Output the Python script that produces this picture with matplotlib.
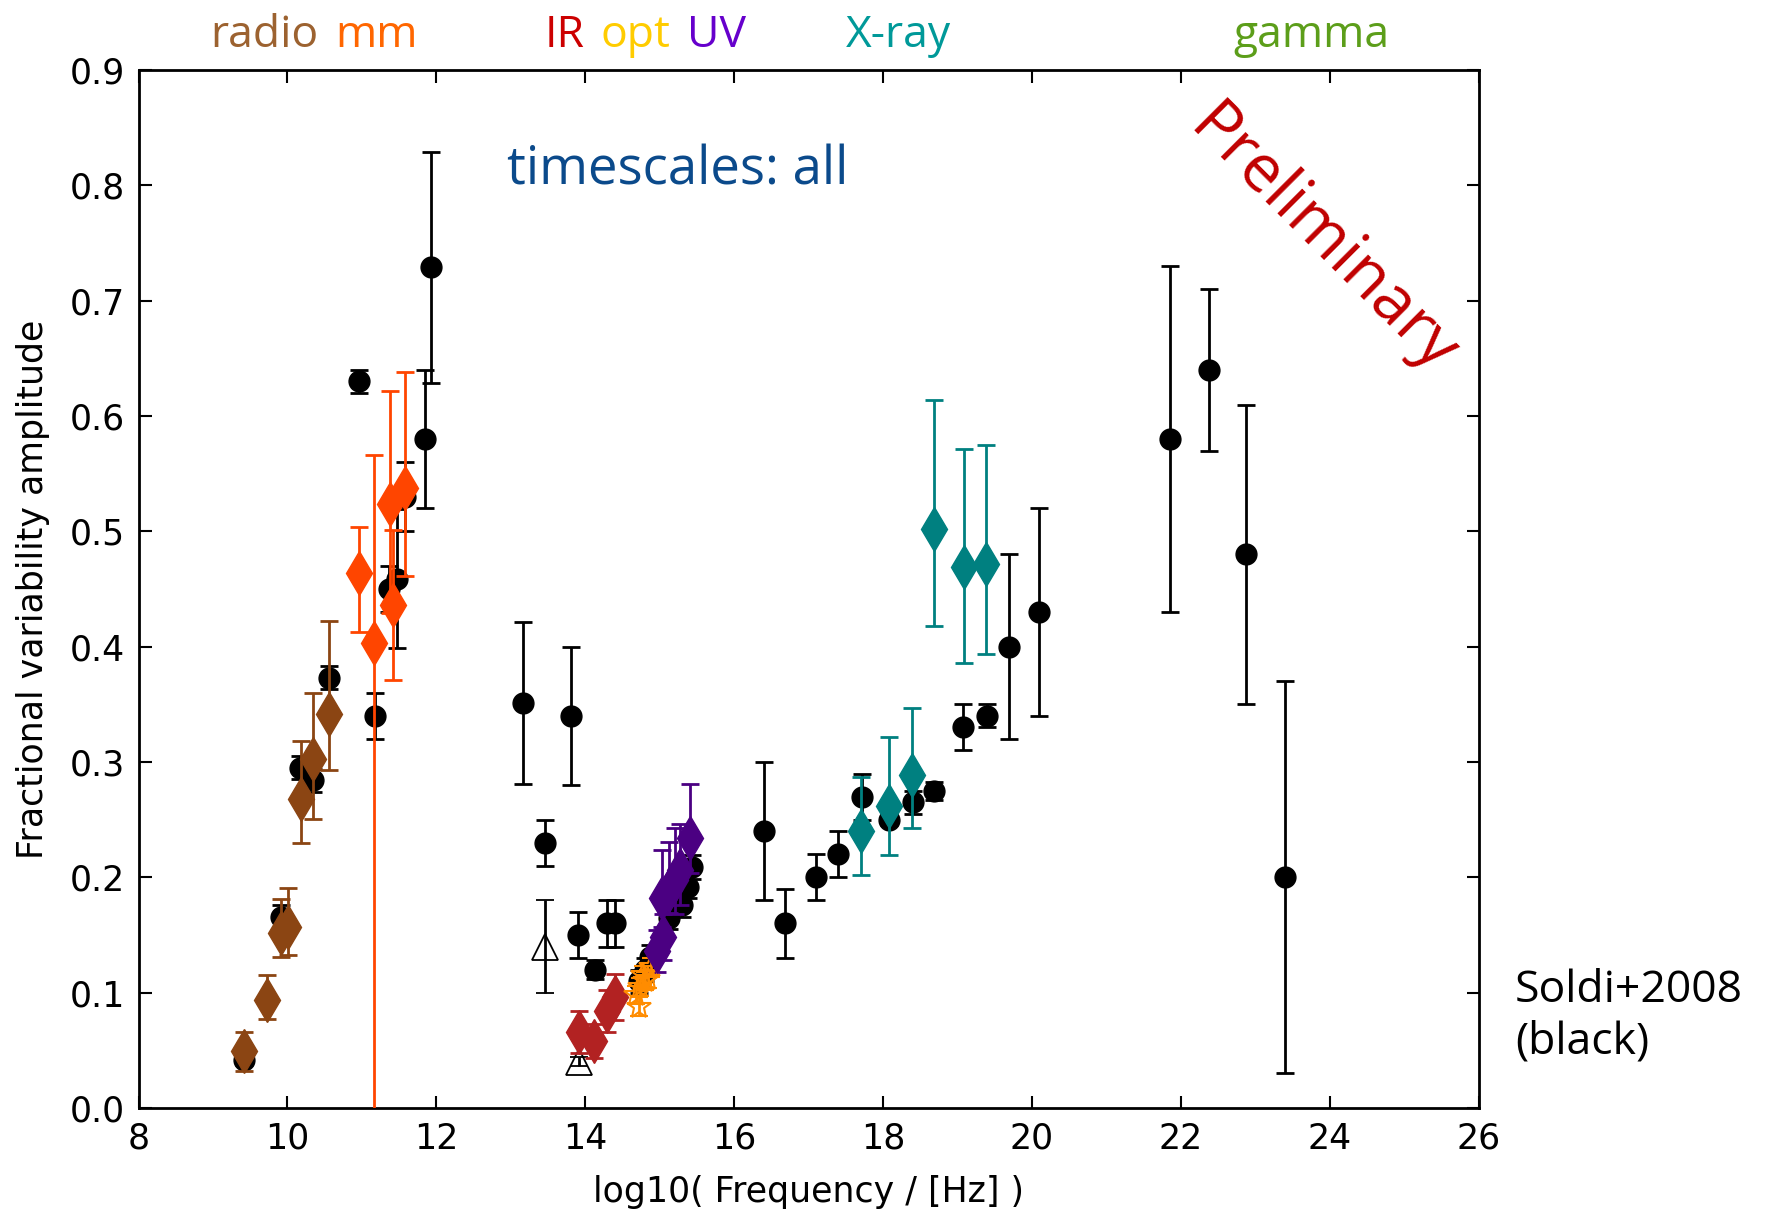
import numpy as np
import matplotlib
matplotlib.use('Agg')
import matplotlib.pyplot as plt
import matplotlib.transforms as mtransforms

plt.rcParams['font.family'] = ['DejaVu Sans']

# Soldi+2008 (black circles)
soldi_x = [9.42, 9.92, 10.17, 10.35, 10.56, 10.96, 11.18, 11.36, 11.47, 11.58, 11.85, 11.93,
           13.17, 13.81, 13.46, 13.90, 14.13, 14.29, 14.40,
           14.72, 14.80, 14.87, 15.12, 15.30, 15.38, 15.43,
           16.40, 16.69, 17.10, 17.39, 17.72, 18.08, 18.40, 18.69, 19.08, 19.40, 19.69, 20.10,
           21.85, 22.38, 22.87, 23.40]
soldi_y = [0.042, 0.166, 0.295, 0.284, 0.373, 0.630, 0.340, 0.450, 0.459, 0.530, 0.580, 0.729,
           0.351, 0.340, 0.230, 0.150, 0.120, 0.160, 0.160,
           0.110, 0.120, 0.131, 0.165, 0.176, 0.192, 0.209,
           0.240, 0.160, 0.200, 0.220, 0.270, 0.250, 0.265, 0.275, 0.330, 0.340, 0.400, 0.430,
           0.580, 0.640, 0.480, 0.200]
soldi_err = [0.005, 0.01, 0.01, 0.01, 0.01, 0.01, 0.02, 0.02, 0.06, 0.03, 0.06, 0.10,
             0.07, 0.06, 0.02, 0.02, 0.008, 0.02, 0.02,
             0.01, 0.01, 0.01, 0.01, 0.01, 0.01, 0.01,
             0.06, 0.03, 0.02, 0.02, 0.02, 0.005, 0.01, 0.008, 0.02, 0.01, 0.08, 0.09,
             0.15, 0.07, 0.13, 0.17]

# Soldi+2008 open triangles
tri_x = [13.46, 13.91]
tri_y = [0.140, 0.040]
tri_err = [0.04, 0.004]

# radio (brown)
radio_x = [9.41, 9.72, 9.92, 10.01, 10.18, 10.35, 10.56]
radio_y = [0.049, 0.094, 0.152, 0.157, 0.268, 0.303, 0.342]
radio_lo = [0.017, 0.017, 0.021, 0.024, 0.038, 0.052, 0.049]
radio_hi = [0.017, 0.021, 0.029, 0.034, 0.050, 0.057, 0.080]

# mm (orange-red)
mm_x = [10.96, 11.16, 11.38, 11.42, 11.58]
mm_y = [0.464, 0.403, 0.524, 0.436, 0.538]
mm_lo = [0.051, 0.500, 0.095, 0.065, 0.077]
mm_hi = [0.040, 0.163, 0.098, 0.065, 0.100]

# IR (red)
ir_x = [13.92, 14.12, 14.29, 14.40]
ir_y = [0.066, 0.058, 0.084, 0.096]
ir_err = [0.018, 0.015, 0.018, 0.020]

# optical (orange stars)
opt_x = [14.68, 14.72, 14.74, 14.77, 14.80, 14.84, 14.89]
opt_y = [0.098, 0.088, 0.105, 0.115, 0.110, 0.112, 0.122]
opt_err = [0.008, 0.008, 0.008, 0.008, 0.008, 0.008, 0.008]

# UV (purple)
uv_x = [14.96, 15.05, 15.03, 15.12, 15.21, 15.27, 15.41]
uv_y = [0.136, 0.148, 0.182, 0.189, 0.198, 0.206, 0.234]
uv_lo = [0.018, 0.020, 0.025, 0.020, 0.030, 0.030, 0.030]
uv_hi = [0.018, 0.020, 0.042, 0.042, 0.045, 0.040, 0.047]

# X-ray (teal)
xray_x = [17.70, 18.08, 18.39, 18.69, 19.09, 19.38]
xray_y = [0.240, 0.262, 0.289, 0.502, 0.469, 0.472]
xray_lo = [0.038, 0.043, 0.046, 0.084, 0.083, 0.078]
xray_hi = [0.047, 0.060, 0.058, 0.112, 0.102, 0.103]

band_words = ['radio', 'mm', 'IR', 'opt', 'UV', 'X-ray', 'gamma']
band_left = [8.97, 10.64, 13.46, 14.20, 15.37, 17.50, 22.71]
band_colors = ['#9C6230', '#FF6600', '#CC0000', '#FFCC00', '#6600CC', '#009999', '#5C9E1A']

fig = plt.figure(figsize=(17.67, 12.12), dpi=100)
ax = fig.add_axes([0.0784, 0.0858, 0.7584, 0.8564])

eb = dict(ls='none', elinewidth=2, capsize=6.5, capthick=2)

ax.errorbar(soldi_x, soldi_y, yerr=soldi_err, fmt='o', color='black', ms=15, zorder=2, **eb)
ax.errorbar(tri_x, tri_y, yerr=tri_err, fmt='^', color='black', mfc='none', mec='black',
            mew=1.3, ms=19, zorder=2, **eb)
ax.errorbar(radio_x, radio_y, yerr=[radio_lo, radio_hi], fmt='d', color='#8B4513', ms=22, zorder=3, **eb)
ax.errorbar(mm_x, mm_y, yerr=[mm_lo, mm_hi], fmt='d', color='#FF4500', ms=22, zorder=3, **eb)
ax.errorbar(ir_x, ir_y, yerr=ir_err, fmt='d', color='#B22222', ms=22, zorder=3, **eb)
ax.errorbar(opt_x, opt_y, yerr=opt_err, fmt='*', color='#FF8C00', mfc='none', mec='#FF8C00',
            mew=1.5, ms=18, zorder=3, **eb)
ax.errorbar(uv_x, uv_y, yerr=[uv_lo, uv_hi], fmt='d', color='#4B0082', ms=22, zorder=3, **eb)
ax.errorbar(xray_x, xray_y, yerr=[xray_lo, xray_hi], fmt='d', color='#008080', ms=22, zorder=3, **eb)

ax.set_xlim(8, 26)
ax.set_ylim(0, 0.9)
ax.set_xticks(np.arange(8, 27, 2))
ax.set_yticks(np.arange(0, 0.91, 0.1))
ax.set_yticklabels(['%.1f' % v for v in np.arange(0, 0.91, 0.1)])
ax.tick_params(direction='in', top=True, right=True, length=9, width=1.5,
               labelsize=25, pad=10)
for sp in ax.spines.values():
    sp.set_linewidth(2)

ax.set_xlabel('log10( Frequency / [Hz] )', fontsize=25, labelpad=14)
ax.set_ylabel('Fractional variability amplitude', fontsize=25, labelpad=14)

# band labels above the axes
trans = mtransforms.blended_transform_factory(ax.transData, ax.transAxes)
for word, xl, col in zip(band_words, band_left, band_colors):
    ax.text(xl, 1.022, word, transform=trans, color=col, fontsize=32,
            family='Open Sans', ha='left', va='baseline', clip_on=False)

ax.text(12.95, 0.813, 'timescales: all', color='#0B4A8B', fontsize=38,
        family='Open Sans', ha='left', va='center')
ax.text(23.9, 0.752, 'Preliminary', color='#C00000', fontsize=47, family='Open Sans',
        rotation=-45, rotation_mode='anchor', ha='center', va='center')
ax.text(26.49, 0.121, 'Soldi+2008\n(black)', color='black', fontsize=32,
        family='Open Sans', ha='left', va='top', linespacing=1.2, clip_on=False)

fig.savefig('out.png', dpi=100)
